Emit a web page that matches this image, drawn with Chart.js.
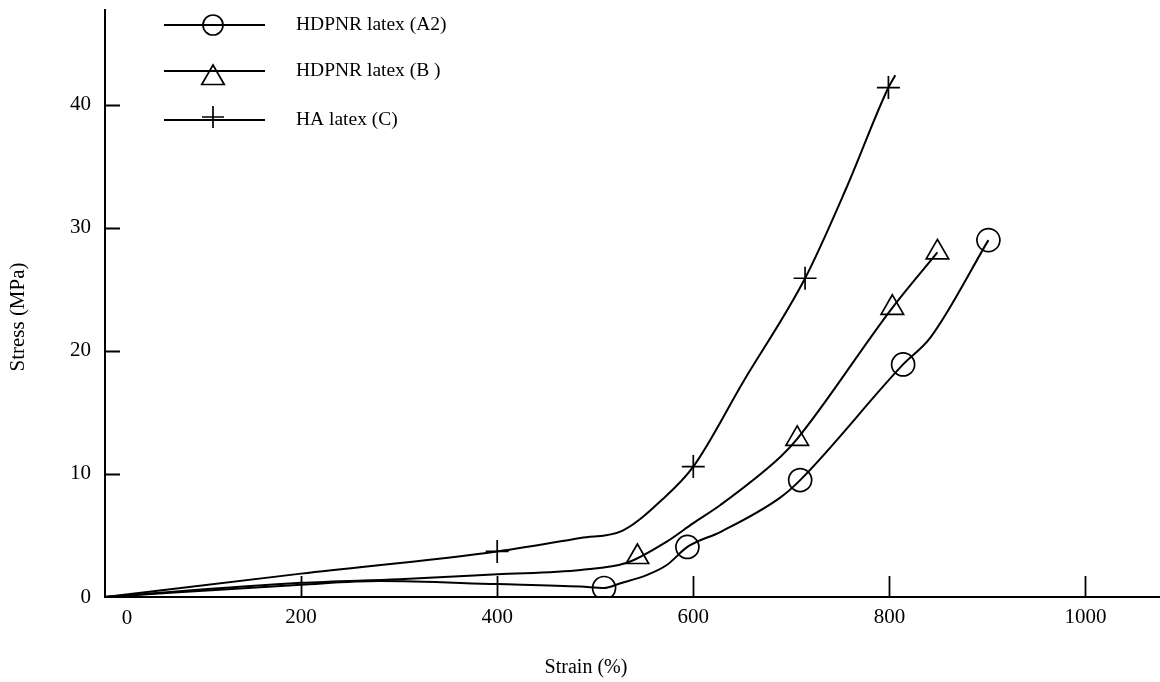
<!DOCTYPE html>
<html>
<head>
<meta charset="utf-8">
<script src="https://cdn.jsdelivr.net/npm/chart.js@4.4.0/dist/chart.umd.min.js"></script>
<style>
  html, body { margin: 0; padding: 0; background: #fff; }
  #stressChart { display: block; }
</style>
</head>
<body>
<canvas id="stressChart" width="1160" height="682"></canvas>
<script>
// stress-strain curves, strain in %, stress in MPa
const seriesNames = ["HDPNR latex (A2)", "HDPNR latex (B )", "HA latex (C)"];

// traced curves
const curveStrainA2 = [0, 200, 280, 400, 485, 509, 525, 553, 573, 594, 628, 689, 709, 814, 842, 901];
const curveStressA2 = [0, 1.0, 1.3, 1.05, 0.85, 0.73, 1.1, 1.8, 2.6, 4.07, 5.3, 8.1, 9.5, 18.9, 21.1, 29.0];
const curveStrainB = [0, 200, 300, 400, 485, 533, 573, 600, 628, 689, 706, 803, 849];
const curveStressB = [0, 1.15, 1.45, 1.85, 2.2, 2.8, 4.5, 6.0, 7.5, 11.4, 12.85, 23.5, 28.0];
const curveStrainC = [0, 200, 400, 485, 528, 568, 600, 651, 714, 757, 799, 806];
const curveStressC = [0, 1.9, 3.7, 4.8, 5.4, 7.9, 10.6, 17.5, 25.9, 33.4, 41.4, 42.4];

// measured points (markers)
const markStrainA2 = [509, 594, 709, 814, 901];
const markStressA2 = [0.73, 4.07, 9.5, 18.9, 29.0];
const markStrainB = [543, 706, 803, 849];
const markStressB = [3.25, 12.85, 23.5, 28.0];
const markStrainC = [400, 600, 714, 799];
const markStressC = [3.7, 10.6, 25.9, 41.4];

const xTickValues = [200, 400, 600, 800, 1000];
const yTickValues = [0, 10, 20, 30, 40];

const toPoints = (xs, ys) => xs.map((x, i) => ({ x: x, y: ys[i] }));

function curve(xs, ys) {
    return {
        data: toPoints(xs, ys),
        borderColor: "#000",
        borderWidth: 2,
        pointRadius: 0,
        cubicInterpolationMode: "monotone",
        fill: false
    };
}

function markers(xs, ys, style, radius) {
    return {
        data: toPoints(xs, ys),
        showLine: false,
        pointStyle: style,
        pointRadius: radius,
        pointBorderColor: "#000",
        pointBackgroundColor: "rgba(0,0,0,0)",
        pointBorderWidth: 1.7
    };
}

function drawMarker(ctx, style, x, y, r) {
    ctx.beginPath();
    if (style === "circle") {
        ctx.arc(x, y, r, 0, Math.PI * 2);
    } else if (style === "triangle") {
        for (let k = 0; k < 3; k++) {
            const a = k * 2 * Math.PI / 3;
            const px = x + Math.sin(a) * r, py = y - Math.cos(a) * r;
            if (k === 0) ctx.moveTo(px, py); else ctx.lineTo(px, py);
        }
        ctx.closePath();
    } else {
        ctx.moveTo(x - r, y); ctx.lineTo(x + r, y);
        ctx.moveTo(x, y - r); ctx.lineTo(x, y + r);
    }
    ctx.stroke();
}

// no extra room around the axes, the plot fills the canvas edge to edge
function noPadding(s) {
    s.paddingLeft = 0;
    s.paddingRight = 0;
    s.paddingTop = 0;
    s.paddingBottom = 0;
}

// inward ticks, shifted zero label, axis titles and legend
const decorations = {
    id: "decorations",
    afterDraw(chart) {
        const ctx = chart.ctx;
        const xs = chart.scales.x, ys = chart.scales.y;
        const area = chart.chartArea;
        ctx.save();
        ctx.strokeStyle = "#000";
        ctx.fillStyle = "#000";
        ctx.lineWidth = 1.8;

        ctx.beginPath();
        xTickValues.forEach(v => {
            const px = Math.round(xs.getPixelForValue(v)) + 0.5;
            ctx.moveTo(px, area.bottom);
            ctx.lineTo(px, area.bottom - 21);
        });
        yTickValues.filter(v => v > 0).forEach(v => {
            const py = Math.round(ys.getPixelForValue(v)) + 0.5;
            ctx.moveTo(area.left, py);
            ctx.lineTo(area.left + 15, py);
        });
        ctx.stroke();

        ctx.font = "21px 'Liberation Serif'";
        ctx.textAlign = "center";
        ctx.textBaseline = "middle";
        ctx.fillText("0", xs.getPixelForValue(0) + 22, 618);

        ctx.font = "20px 'Liberation Serif'";
        ctx.fillText("Strain (%)", 586, 668);
        ctx.save();
        ctx.translate(18, 317);
        ctx.rotate(-Math.PI / 2);
        ctx.font = "21px 'Liberation Serif'";
        ctx.fillText("Stress (MPa)", 0, 0);
        ctx.restore();

        const rows = [
            { style: "circle", y: 25, r: 10, dy: 0 },
            { style: "triangle", y: 71, r: 13, dy: 7 },
            { style: "cross", y: 120, r: 11, dy: -3 }
        ];
        ctx.font = "19.5px 'Liberation Serif'";
        ctx.textAlign = "left";
        rows.forEach((row, i) => {
            ctx.lineWidth = 1.8;
            ctx.beginPath();
            ctx.moveTo(164, row.y);
            ctx.lineTo(265, row.y);
            ctx.stroke();
            ctx.lineWidth = 1.7;
            drawMarker(ctx, row.style, 213, row.y + row.dy, row.r);
            ctx.fillText(seriesNames[i], 296, row.y);
        });
        ctx.restore();
    }
};

Chart.defaults.font.family = "'Liberation Serif', serif";
Chart.defaults.color = "#000";

const ctx = document.getElementById("stressChart").getContext("2d");
new Chart(ctx, {
    type: "line",
    data: {
        datasets: [
            curve(curveStrainA2, curveStressA2),
            curve(curveStrainB, curveStressB),
            curve(curveStrainC, curveStressC),
            markers(markStrainA2, markStressA2, "circle", 11.5),
            markers(markStrainB, markStressB, "triangle", 13),
            markers(markStrainC, markStressC, "cross", 11.5)
        ]
    },
    options: {
        responsive: false,
        animation: false,
        devicePixelRatio: 1,
        layout: { autoPadding: false, padding: { top: 10, right: 0, bottom: 0, left: 0 } },
        plugins: {
            legend: { display: false },
            tooltip: { enabled: false }
        },
        scales: {
            x: {
                type: "linear",
                min: 0,
                max: 1076,
                afterBuildTicks: s => { s.ticks = xTickValues.map(v => ({ value: v })); },
                afterFit: s => { s.height = 85; noPadding(s); },
                grid: { display: false, drawTicks: false },
                border: { display: true, color: "#000", width: 2 },
                ticks: { font: { size: 21 }, padding: 8, maxRotation: 0, callback: v => String(v) }
            },
            y: {
                type: "linear",
                min: 0,
                max: 47.7,
                afterBuildTicks: s => { s.ticks = yTickValues.map(v => ({ value: v })); },
                afterFit: s => { s.width = 105; noPadding(s); },
                grid: { display: false, drawTicks: false },
                border: { display: true, color: "#000", width: 2 },
                ticks: { font: { size: 21 }, padding: 14, callback: v => String(v) }
            }
        }
    },
    plugins: [decorations]
});
</script>
</body>
</html>
